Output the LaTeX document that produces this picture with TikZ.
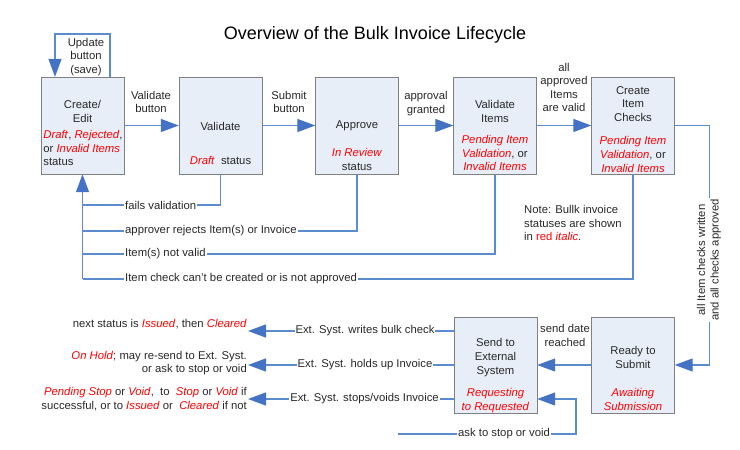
\documentclass[tikz,border=0pt]{standalone}
\usepackage{fontspec}
\setmainfont{Liberation Sans}
\usetikzlibrary{arrows.meta}

\definecolor{boxfill}{RGB}{232,238,248}
\definecolor{boxline}{RGB}{128,128,128}
\definecolor{flowblue}{RGB}{92,140,208}
\definecolor{tipblue}{RGB}{68,114,196}
\definecolor{statred}{RGB}{255,0,0}
\definecolor{txtgray}{RGB}{40,40,40}

\newcommand{\redit}[1]{\textcolor{statred}{\textit{#1}}}

\tikzset{
  box/.style={draw=boxline, fill=boxfill, minimum width=83pt,
    minimum height=97pt, inner sep=0pt},
  boxtxt/.style={align=center, text=txtgray,
    font=\fontsize{11.3}{13.6}\selectfont, inner sep=0pt},
  lbl/.style={align=center, text=txtgray,
    font=\fontsize{11.3}{13.6}\selectfont, inner sep=1pt},
  onwire/.style={lbl, fill=white},
  wire/.style={draw=flowblue, line width=1.2pt},
  flow/.style={wire, -{Triangle[length=18pt,width=13pt,color=tipblue]}},
}

\begin{document}
\begin{tikzpicture}[x=1pt,y=-1pt]

		\useasboundingbox (0,0) rectangle (740,450);

		% Title
		\node [font=\fontsize{18}{20}\selectfont,
		text=black] (title) at (375,35) {Overview of the Bulk Invoice Lifecycle};

		% Top row
		\node [box] (create) at (82.5,125.5) {};
		\node [box] (validate) at (220.5,125.5) {};
		\node [box] (approve) at (357,125.5) {};
		\node [box] (items) at (495,125.5) {};
		\node [box] (checks) at (633,125.5) {};

		% Bottom row
		\node [box, minimum height=96pt] (send) at (495.5,365) {};
		\node [box, minimum height=96pt] (ready) at (633,365) {};

		% Box texts
		\node [boxtxt] (createT) at (82.5,111.5) {Create/\\Edit};
		\node [boxtxt, align=left] (createS) at (83,148)
		{\redit{Draft}, \redit{Rejected},\\or \redit{Invalid Items}\\status};

		\node [boxtxt] (validateT) at (220.5,126) {Validate};
		\node [boxtxt] (validateS) at (220.5,160) {\redit{Draft}\ \ status};

		\node [boxtxt] (approveT) at (357,126) {Approve};
		\node [boxtxt] (approveS) at (357,159.5) {\redit{In Review}\\status};

		\node [boxtxt] (itemsT) at (495,111.5) {Validate\\Items};
		\node [boxtxt] (itemsS) at (495,153)
		{\redit{Pending Item}\\\redit{Validation}, or\\\redit{Invalid Items}};

		\node [boxtxt] (checksT) at (633,104) {Create\\Item\\Checks};
		\node [boxtxt] (checksS) at (633,154.5)
		{\redit{Pending Item}\\\redit{Validation}, or\\\redit{Invalid Items}};

		\node [boxtxt] (sendT) at (495.5,357.5) {Send to\\External\\System};
		\node [boxtxt] (sendS) at (495.5,400.5) {\redit{Requesting}\\\redit{to Requested}};

		\node [boxtxt] (readyT) at (633,357.5) {Ready to\\Submit};
		\node [boxtxt] (readyS) at (633,399.5) {\redit{Awaiting}\\\redit{Submission}};

		% Forward flow
		\coordinate (updtop) at (82.5,34);
		\draw [flow] ([xshift=27.5pt]create.north) |- ([xshift=-27.5pt]updtop)
		-- ([xshift=-27.5pt]create.north);
		\draw [flow] (create) -- (validate);
		\draw [flow] (validate) -- (approve);
		\draw [flow] (approve) -- (items);
		\draw [flow] (items) -- (checks);
		\draw [flow] (checks.east) -- ++(35,0) |- (ready.east);
		\draw [flow] (ready) -- (send);

		% Forward labels
		\node [lbl] (updL) at (86,57) {Update\\button\\(save)};
		\node [lbl] (validateL) at (151,102) {Validate\\button};
		\node [lbl] (submitL) at (289,102) {Submit\\button};
		\node [lbl] (grantedL) at (426,103.5) {approval\\granted};
		\node [lbl] (validL) at (564,87.5) {all\\approved\\Items\\are valid};
		\node [onwire, rotate=90] (writtenL) at (709,260)
		{all Item checks written\\and all checks approved};
		\node [lbl] (dateL) at (565,335.5) {send date\\reached};

		% Back to Create/Edit
		\coordinate (fb1) at (82.5,205);
		\coordinate (fb2) at (82.5,231);
		\coordinate (fb3) at (82.5,254);
		\coordinate (fb4) at (82.5,279);
		\draw [wire] (validate.south) |- (fb1);
		\draw [wire] (approve.south) |- (fb2);
		\draw [wire] (items.south) |- (fb3);
		\draw [wire] (checks.south) |- (fb4);
		\draw [flow] (fb4) -- (create.south);

		\node [onwire, anchor=west] (failL) at (124,205) {fails validation};
		\node [onwire, anchor=west] (rejectL) at (124,231) {approver rejects Item(s) or Invoice};
		\node [onwire, anchor=west] (notvalidL) at (124,254) {Item(s) not valid};
		\node [onwire, anchor=west] (nocheckL) at (124,279)
		{Item check can't be created or is not approved};

		% Note
		\node [lbl, align=left, anchor=west] (note) at (523,223)
		{Note: Bullk invoice\\statuses are shown\\in \textcolor{statred}{red \textit{italic}}.};

		% Replies from the external system
		\coordinate (tip1) at (248,331);
		\coordinate (tip2) at (248,365);
		\coordinate (tip3) at (248,399);
		\draw [flow] (send.west |- tip1) -- (tip1);
		\draw [flow] (send.west |- tip2) -- (tip2);
		\draw [flow] (send.west |- tip3) -- (tip3);

		\node [onwire] (writesL) at (365,331) {Ext. Syst. writes bulk check};
		\node [onwire] (holdsL) at (365,365) {Ext. Syst. holds up Invoice};
		\node [onwire] (stopsL) at (364.5,399) {Ext. Syst. stops/voids Invoice};

		\node [lbl, align=right, anchor=east] (res1) at (248,324)
		{next status is \redit{Issued}, then \redit{Cleared}};
		\node [lbl, align=right, anchor=east] (res2) at (248,363)
		{\redit{On Hold}; may re-send to Ext. Syst.\\or ask to stop or void};
		\node [lbl, align=right, anchor=east] (res3) at (248,399)
		{\redit{Pending Stop} or \redit{Void},\ \ to\ \ \redit{Stop} or \redit{Void} if\\
		successful, or to \redit{Issued} or\ \ \redit{Cleared} if not};

		% Stop or void request
		\coordinate (askstart) at (398,434);
		\coordinate (askturn) at (576,434);
		\draw [flow] (askstart) -- (askturn) |- (send.east |- tip3);
		\node [onwire] (askL) at (504,434) {ask to stop or void};

	\end{tikzpicture}
\end{document}
